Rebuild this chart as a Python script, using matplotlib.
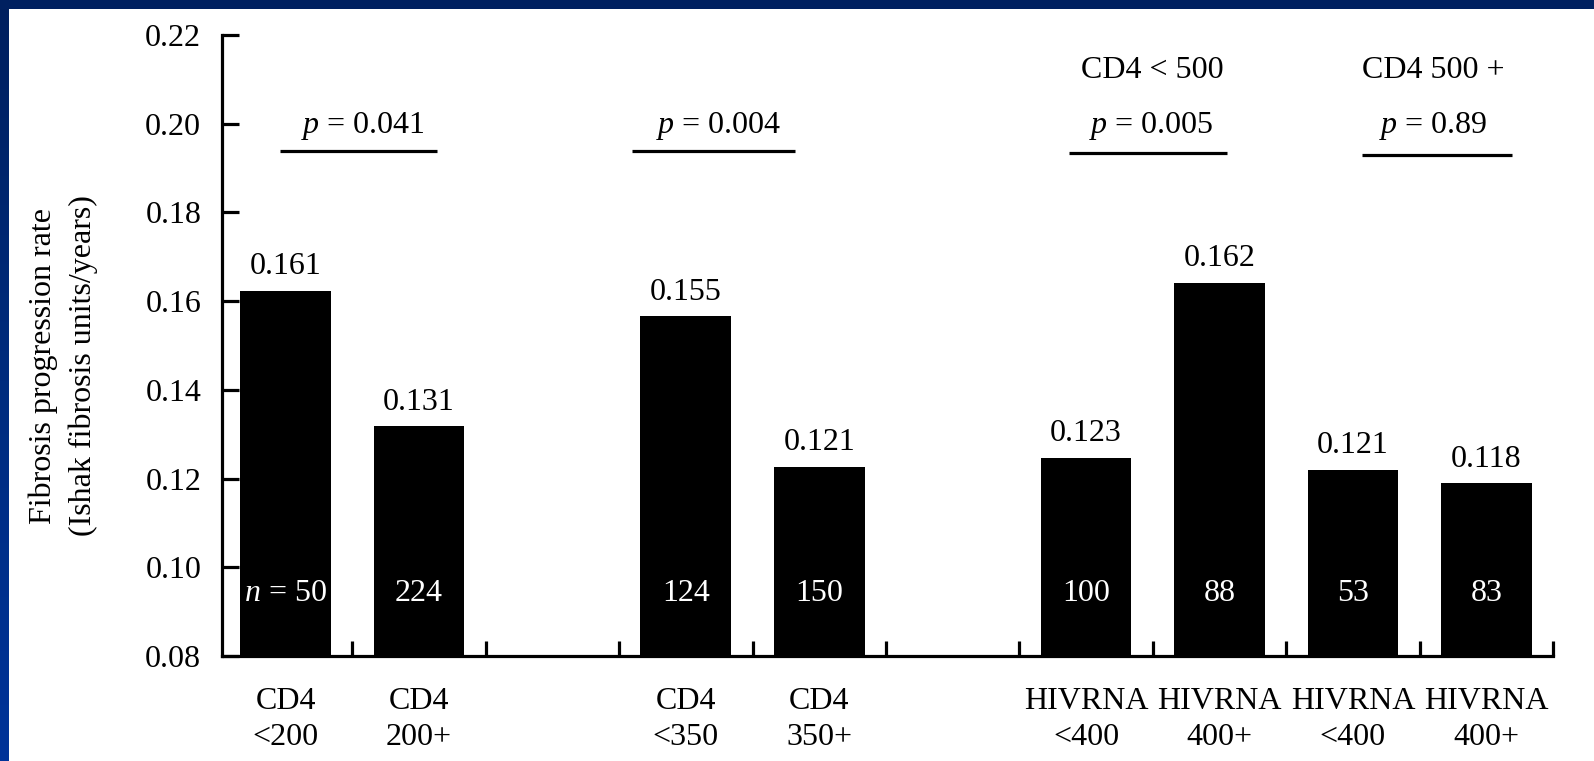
import numpy as np
import matplotlib
matplotlib.use("Agg")
import matplotlib.pyplot as plt
from matplotlib.patches import Rectangle
from matplotlib.colors import LinearSegmentedColormap

# ---------------- data ----------------
positions = [0, 1, 3, 4, 6, 7, 8, 9]
bar_heights = [0.1623, 0.1318, 0.1566, 0.1226, 0.1247, 0.1642, 0.1219, 0.1189]
value_labels = ["0.161", "0.131", "0.155", "0.121", "0.123", "0.162", "0.121", "0.118"]
n_labels = ["$n$ = 50", "224", "124", "150", "100", "88", "53", "83"]
tick_labels = ["CD4\n<200", "CD4\n200+", "CD4\n<350", "CD4\n350+",
               "HIVRNA\n<400", "HIVRNA\n400+", "HIVRNA\n<400", "HIVRNA\n400+"]
y_ticks = [0.08, 0.10, 0.12, 0.14, 0.16, 0.18, 0.20, 0.22]
y_tick_labels = ["0.08", "0.10", "0.12", "0.14", "0.16", "0.18", "0.20", "0.22"]
p_texts = ["$p$ = 0.041", "$p$ = 0.004", "$p$ = 0.005", "$p$ = 0.89"]
p_text_x = [0.58, 3.245, 6.49, 8.60]
p_line_x0 = [-0.043, 2.596, 5.87, 8.07]
p_line_x1 = [1.134, 3.818, 7.06, 9.19]
p_line_y = [0.1938, 0.1938, 0.1934, 0.1930]
group_titles = ["CD4 < 500", "CD4 500 +"]
group_title_x = [6.50, 8.60]

# ---------------- style ----------------
FONT = "Liberation Serif"
plt.rcParams["font.family"] = [FONT, "DejaVu Serif"]
plt.rcParams["mathtext.fontset"] = "custom"
plt.rcParams["mathtext.rm"] = FONT
plt.rcParams["mathtext.it"] = FONT + ":italic"
FS = 23

W, H = 1594, 761
fig = plt.figure(figsize=(W / 100, H / 100), dpi=100)
fig.patch.set_facecolor("white")

# blue frame (top band + left gradient band)
lax = fig.add_axes([0, 0, 9 / W, 1])
cmap = LinearSegmentedColormap.from_list("b", ["#001f5e", "#002c7e", "#003399"])
lax.imshow(np.linspace(0, 1, 256).reshape(-1, 1), aspect="auto", cmap=cmap,
           extent=[0, 1, 0, 1], origin="upper")
lax.axis("off")
fig.patches.append(Rectangle((0, 1 - 9 / H), 1, 9 / H, transform=fig.transFigure,
                             facecolor="#002060", edgecolor="none", zorder=5))

ax = fig.add_axes([222 / W, 1 - 656 / H, (1553 - 222) / W, (656 - 35) / H])
ax.bar(positions, [h - 0.08 for h in bar_heights], bottom=0.08, width=0.68,
       color="black", edgecolor="none", zorder=2)

ax.set_xlim(-0.477, 9.5)
ax.set_ylim(0.08, 0.22)

for sp in ["top", "right"]:
    ax.spines[sp].set_visible(False)
for sp in ["left", "bottom"]:
    ax.spines[sp].set_linewidth(2.3)
    ax.spines[sp].set_zorder(3)

ax.set_yticks(y_ticks)
ax.set_yticklabels(y_tick_labels, fontsize=FS)
ax.tick_params(axis="y", direction="in", length=12, width=2.3, pad=15)

ax.set_xticks(positions)
ax.set_xticklabels(tick_labels, fontsize=FS, linespacing=1.32)
ax.tick_params(axis="x", which="major", length=0, pad=22)
ax.set_xticks([i + 0.5 for i in range(10)], minor=True)
ax.tick_params(axis="x", which="minor", direction="in", length=11, width=2.3)

# value labels above bars
for x, h, lab in zip(positions, bar_heights, value_labels):
    ax.annotate(lab, (x, h), xytext=(0, 12), textcoords="offset points",
                ha="center", va="baseline", fontsize=FS)

# n labels inside bars
for x, lab in zip(positions, n_labels):
    ax.text(x, 0.0924, lab, ha="center", va="baseline", fontsize=FS,
            color="white", zorder=4)

# p-value annotations
for t, tx, x0, x1, ly in zip(p_texts, p_text_x, p_line_x0, p_line_x1, p_line_y):
    ax.plot([x0, x1], [ly, ly], color="black", lw=2.3, clip_on=False,
            solid_capstyle="butt")
    ax.text(tx, 0.1979, t, ha="center", va="baseline", fontsize=FS)

for t, tx in zip(group_titles, group_title_x):
    ax.text(tx, 0.2103, t, ha="center", va="baseline", fontsize=FS)

# y label (two lines)
fig.text(43 / W, 1 - 366 / H, "Fibrosis progression rate", rotation=90,
         ha="center", va="center", fontsize=FS)
fig.text(83 / W, 1 - 366 / H, "(Ishak fibrosis units/years)", rotation=90,
         ha="center", va="center", fontsize=FS)

fig.savefig("out.png", dpi=100, facecolor="white")
